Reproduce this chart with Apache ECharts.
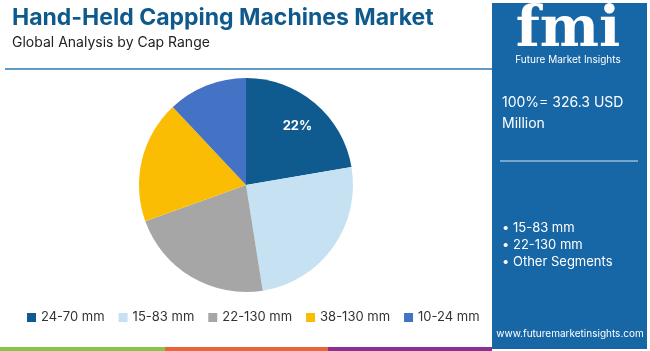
<!DOCTYPE html>
<html lang="en">

<head>
    <meta charset="UTF-8">
    <title>Hand-Held Capping Machines Market</title>
    <script src="https://cdn.jsdelivr.net/npm/echarts@6/dist/echarts.min.js"></script>
    <style>
        body { margin: 0; background: #fff; }
    </style>
</head>

<body>
    <div id="main" style="width: 650px;height:351px;"></div>
    <script type="text/javascript">
        // 数据
        var categories = ['24-70 mm', '15-83 mm', '22-130 mm', '38-130 mm', '10-24 mm'];
        var shares = [22.3, 25.2, 22.0, 18.5, 12.0];
        var colors = ['#0f5a8e', '#c5e1f2', '#a6a6a6', '#fbbc04', '#4472c4'];
        var panelBullets = ['• 15-83 mm', '• 22-130 mm', '• Other Segments'];

        var font = 'Inter, "Noto Sans", sans-serif';
        var myChart = echarts.init(document.getElementById('main'));

        var pieData = categories.map(function (name, i) {
            var item = { name: name, value: shares[i], itemStyle: { color: colors[i] } };
            if (i === 0) {
                item.label = { show: true, formatter: Math.round(shares[i]) + '%', offset: [15, -16] };
            }
            return item;
        });

        var option = {
            animation: false,
            title: {
                text: 'Hand-Held Capping Machines Market',
                subtext: 'Global Analysis by Cap Range',
                left: 7,
                top: 2,
                itemGap: 6,
                textStyle: { fontFamily: font, fontSize: 23, fontWeight: 'bold', color: '#0e5a8c' },
                subtextStyle: { fontFamily: font, fontSize: 14, color: '#222' }
            },
            legend: {
                bottom: 22,
                left: 22,
                itemWidth: 9,
                itemHeight: 9,
                itemGap: 14,
                icon: 'rect',
                textStyle: { fontFamily: font, fontSize: 13, color: '#333' },
                data: categories
            },
            series: [{
                type: 'pie',
                center: [246, 185],
                radius: 107,
                startAngle: 90,
                clockwise: true,
                label: {
                    show: false,
                    position: 'inside',
                    color: '#fff',
                    fontWeight: 'bold',
                    fontSize: 13,
                    fontFamily: font
                },
                labelLine: { show: false },
                emphasis: { disabled: true },
                data: pieData
            }],
            graphic: [
                // 标题下方的线
                { type: 'line', shape: { x1: 5, y1: 69, x2: 492, y2: 69 }, style: { stroke: '#2a78b4', lineWidth: 1.5 } },
                // 底部彩条
                { type: 'rect', shape: { x: 0, y: 347, width: 165, height: 4 }, style: { fill: '#8bc34a' } },
                { type: 'rect', shape: { x: 165, y: 347, width: 163, height: 4 }, style: { fill: '#e8643a' } },
                { type: 'rect', shape: { x: 328, y: 347, width: 164, height: 4 }, style: { fill: '#8e2f8f' } },
                // 右侧面板
                { type: 'rect', shape: { x: 492, y: 3, width: 155, height: 346 }, style: { fill: '#1766a6' } },
                {
                    type: 'text', x: 568, y: 3,
                    style: { text: 'fmi', fill: '#fff', font: 'bold 56px "DejaVu Serif", serif', textAlign: 'center' }
                },
                {
                    type: 'text', x: 568, y: 55,
                    style: { text: 'Future Market Insights', fill: '#fff', font: '10px ' + font, textAlign: 'center' }
                },
                {
                    type: 'text', x: 502, y: 92,
                    style: { text: '100%= 326.3 USD\nMillion', fill: '#fff', font: '14px ' + font, lineHeight: 21 }
                },
                { type: 'line', shape: { x1: 500, y1: 161, x2: 638, y2: 161 }, style: { stroke: '#d6e6f3', lineWidth: 1 } },
                {
                    type: 'text', x: 502, y: 220,
                    style: { text: panelBullets.join('\n'), fill: '#fff', font: '13px ' + font, lineHeight: 17 }
                },
                {
                    type: 'text', x: 570, y: 329,
                    style: { text: 'www.futuremarketinsights.com', fill: '#fff', font: '10px ' + font, textAlign: 'center' }
                }
            ]
        };

        myChart.setOption(option);
    </script>
</body>

</html>
